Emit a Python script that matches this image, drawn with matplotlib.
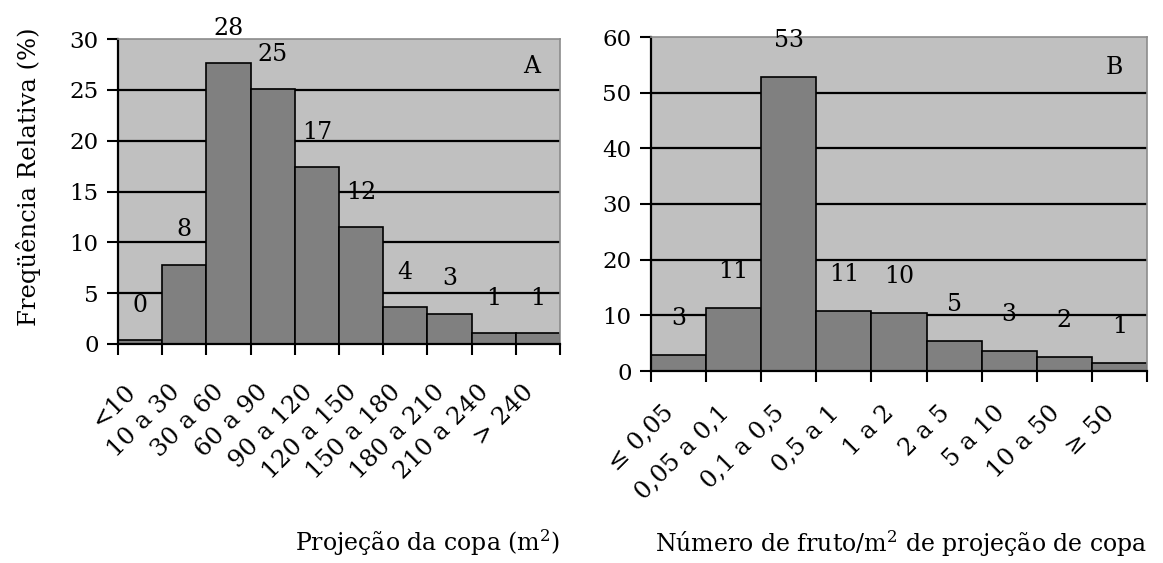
import matplotlib
matplotlib.use("Agg")
import matplotlib.pyplot as plt
import numpy as np

# data
copa_classes = ["<10", "10 a 30", "30 a 60", "60 a 90", "90 a 120", "120 a 150",
                "150 a 180", "180 a 210", "210 a 240", "> 240"]
copa_freq = [0.4, 7.8, 27.6, 25.1, 17.4, 11.5, 3.6, 3.0, 1.1, 1.1]
copa_labels = [0, 8, 28, 25, 17, 12, 4, 3, 1, 1]

fruto_classes = ["≤ 0,05", "0,05 a 0,1", "0,1 a 0,5", "0,5 a 1", "1 a 2", "2 a 5",
                 "5 a 10", "10 a 50", "≥ 50"]
fruto_freq = [2.9, 11.3, 52.8, 10.8, 10.4, 5.4, 3.6, 2.5, 1.4]
fruto_labels = [3, 11, 53, 11, 10, 5, 3, 2, 1]

plt.rcParams["font.family"] = ["DejaVu Serif"]
plt.rcParams["mathtext.fontset"] = "dejavuserif"
plt.rcParams["font.size"] = 16

fig = plt.figure(figsize=(11.63, 5.63), dpi=100)
ax1 = fig.add_axes([118 / 1163, (563 - 344) / 563, 442 / 1163, 305 / 563])
ax2 = fig.add_axes([651 / 1163, (563 - 371) / 563, 496 / 1163, 334 / 563])


def draw(ax, classes, freq, labels, ymax, step, letter, lbl_off, tick_pad):
    n = len(classes)
    x = np.arange(n)
    ax.set_facecolor("#c0c0c0")
    yt = np.arange(0, ymax + step, step)
    ax.hlines(yt[1:-1], 0, n, colors="black", lw=1.6, zorder=1)
    ax.bar(x, freq, width=1, align="edge", color="#808080",
           edgecolor="black", lw=1.2, zorder=2)
    for i, (v, l) in enumerate(zip(freq, labels)):
        ax.annotate(str(l), (i + 0.5, v), xytext=(0, lbl_off),
                    textcoords="offset points", ha="center", va="center",
                    fontsize=17, annotation_clip=False)
    ax.set_xlim(0, n)
    ax.set_ylim(0, ymax)
    ax.set_yticks(yt)
    ax.set_xticks(np.arange(n + 1))
    ax.set_xticklabels([])
    ax.set_xticks(x + 0.5, minor=True)
    ax.set_xticklabels(classes, minor=True, rotation=45, ha="right", va="top",
                       fontsize=17.5)
    ax.tick_params(axis="x", which="minor", length=0, pad=tick_pad)
    ax.tick_params(axis="both", which="major", direction="out", length=8,
                   width=1.5, color="black")
    ax.tick_params(axis="y", labelsize=16.5, pad=6)
    for s in ["left", "bottom"]:
        ax.spines[s].set_color("black")
        ax.spines[s].set_linewidth(1.6)
    for s in ["top", "right"]:
        ax.spines[s].set_color("#8c8c8c")
        ax.spines[s].set_linewidth(1.2)
    ax.text(0.935, 0.91, letter, transform=ax.transAxes, ha="center",
            va="center", fontsize=17)


draw(ax1, copa_classes, copa_freq, copa_labels, 30, 5, "A", 25, 26)
draw(ax2, fruto_classes, fruto_freq, fruto_labels, 60, 10, "B", 26.5, 22)

ax1.set_ylabel("Freqüência Relativa (%)", fontsize=17.5)
ax1.yaxis.set_label_coords(-0.175, 0.55)
ax1.set_xlabel("Projeção da copa (m$^2$)", loc="right", fontsize=17)
ax1.xaxis.set_label_coords(1.0, -0.60)
ax2.set_xlabel("Número de fruto/m$^2$ de projeção de copa", loc="right",
               fontsize=17)
ax2.xaxis.set_label_coords(1.0, -0.47)

fig.savefig("out.png", dpi=100, facecolor="white")
